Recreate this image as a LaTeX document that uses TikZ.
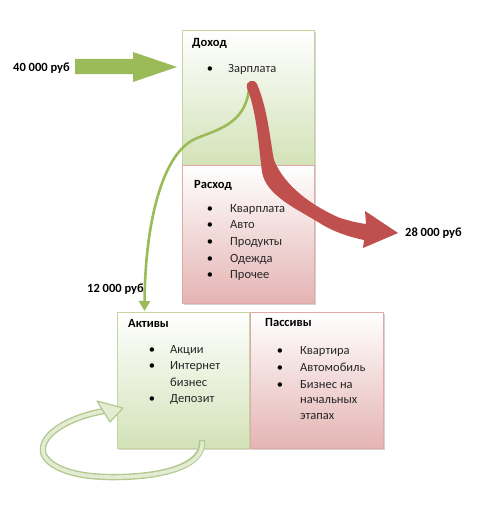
\documentclass[tikz,border=0pt]{standalone}
\usepackage{fontspec}
\setmainfont{Carlito}
\usetikzlibrary{arrows.meta,shadows}
\definecolor{ogreen}{HTML}{9BBB59}
\definecolor{ored}{HTML}{C0504D}
\definecolor{gbot}{HTML}{D3E2B8}
\definecolor{gline}{HTML}{C3D69B}
\definecolor{pbot}{HTML}{E4B4B3}
\definecolor{pline}{HTML}{E0A9A8}
\definecolor{loopout}{HTML}{B3C990}
\definecolor{loopin}{HTML}{E3ECD3}
\tikzset{
  box/.style={draw, line width=0.8pt, anchor=north west, inner sep=0pt,
    drop shadow={shadow xshift=1.5pt, shadow yshift=-1.5pt, opacity=0.35}},
  gbox/.style={box, draw=gline, top color=white, bottom color=gbot},
  pbox/.style={box, draw=pline, top color=white, bottom color=pbot},
  txt/.style={anchor=base west, inner sep=0pt, font=\fontsize{12.5}{14}\selectfont, text=black!85},
  ttl/.style={anchor=base west, inner sep=0pt, font=\fontsize{12.5}{14}\selectfont\bfseries},
  bul/.style={anchor=base, inner sep=0pt, font=\fontsize{12.5}{14}\selectfont},
  lbl/.style={anchor=base west, inner sep=0pt, font=\fontsize{12.5}{14}\selectfont\bfseries}
}
\begin{document}
\begin{tikzpicture}[x=1pt,y=-1pt]
\useasboundingbox (0,0) rectangle (490,511);
% boxes
\node[gbox, minimum width=132pt, minimum height=135pt] (dohod) at (182,30) {};
\node[pbox, minimum width=132pt, minimum height=138pt] (rashod) at (182,165) {};
\node[gbox, minimum width=132pt, minimum height=136pt] (aktiv) at (117,312) {};
\node[pbox, minimum width=133pt, minimum height=136pt] (passiv) at (250,312) {};
% texts
\node[ttl] (t1) at (192,46.5) {Доход};
\node[bul] (b1) at (210,72) {\textbullet};
\node[txt] (z1) at (228,72) {Зарплата};
\node[ttl] (t2) at (194,188.5) {Расход};
\foreach \y/\s [count=\i] in {212/Кварплата,228/Авто,245/Продукты,262/Одежда,278/Прочее}{
  \node[bul] (rb\i) at (210,\y) {\textbullet};
  \node[txt] (rt\i) at (230,\y) {\s};
}
\node[ttl] (t3) at (128,327.5) {Активы};
\node[bul] (ab1) at (152,353) {\textbullet};
\node[txt] (at1) at (170,353) {Акции};
\node[bul] (ab2) at (152,369.5) {\textbullet};
\node[txt] (at2) at (170,369.5) {Интернет};
\node[txt] (at3) at (170,386) {бизнес};
\node[bul] (ab4) at (152,402) {\textbullet};
\node[txt] (at4) at (170,402) {Депозит};
\node[ttl] (t4) at (265,326.5) {Пассивы};
\node[bul] (pb1) at (280,354) {\textbullet};
\node[txt] (pt1) at (300,354) {Квартира};
\node[bul] (pb2) at (280,371) {\textbullet};
\node[txt] (pt2) at (300,371) {Автомобиль};
\node[bul] (pb3) at (280,388) {\textbullet};
\node[txt] (pt3) at (300,388) {Бизнес на};
\node[txt] (pt4) at (300,403.5) {начальных};
\node[txt] (pt5) at (300,419) {этапах};
% labels
\node[lbl] (l40) at (13,71) {40 000 руб};
\node[lbl] (l28) at (405,236) {28 000 руб};
\node[lbl] (l12) at (87,292) {12 000 руб};
% big green arrow
\coordinate (ga) at (75,66.5);
\fill[ogreen] (ga) ++(0,-7.5) -- ++(58,0) -- ++(0,-7) -- (177,67) -- (133,82) -- (133,74) -- (75,74) -- cycle;
% green curve arrow from Zarplata to Aktivy
\coordinate (gs) at (249,88);
\coordinate (ge) at (144.5,311);
\draw[ogreen, line width=2.6pt, -{Triangle[length=10pt,width=11pt]}]
  (gs) .. controls (246,125) and (215,130) .. (195,139)
       .. controls (160,155) and (145,230) .. (ge);
% red tapered arrow
\fill[ored] (257,84) .. controls (268,110) and (270,140) .. (274,160)
  .. controls (284,185) and (310,205) .. (340,218)
  .. controls (350,221) and (358,223) .. (366,224)
  -- (365,211) -- (398,233) -- (363,248) -- (364,240)
  .. controls (345,236) and (330,230) .. (318,222)
  .. controls (295,208) and (266,195) .. (262,172)
  .. controls (259,150) and (257,112) .. (247,88)
  .. controls (245,81) and (254,78) .. (257,84) -- cycle;
% loop arrow
\coordinate (ls) at (202,440);
\coordinate (le) at (104,411);
\path[draw=loopout, line width=6.4pt]
  (ls) .. controls (205,470) and (150,478) .. (107,477)
       .. controls (60,476) and (40,460) .. (43,447)
       .. controls (46,430) and (75,416) .. (le);
\path[draw=loopin, line width=3.6pt, shorten <=1.4pt]
  (ls) .. controls (205,470) and (150,478) .. (107,477)
       .. controls (60,476) and (40,460) .. (43,447)
       .. controls (46,430) and (75,416) .. (le);
\filldraw[draw=loopout, fill=loopin, line width=1.2pt, line join=round] (97,401) -- (123,408) -- (110,422) -- cycle;
\end{tikzpicture}
\end{document}
